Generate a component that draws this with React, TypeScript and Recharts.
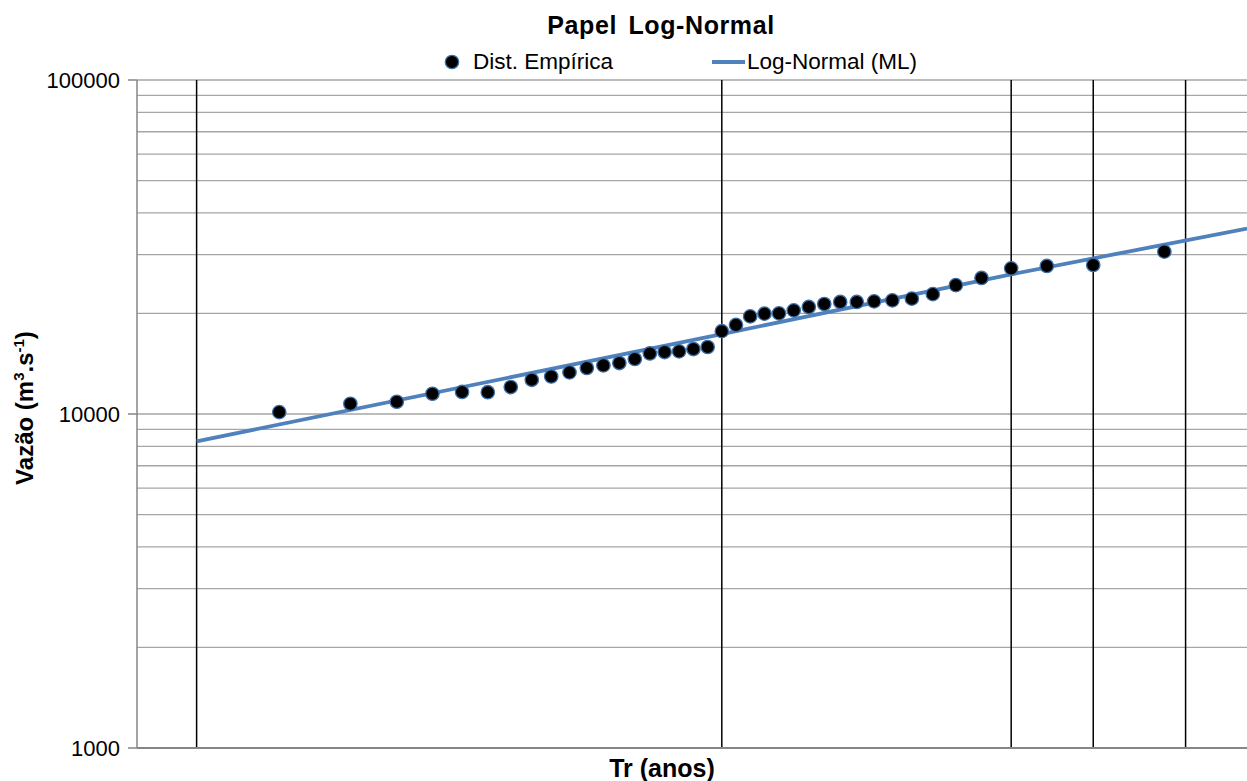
import React from 'react';
import { ScatterChart, Scatter, XAxis, YAxis, CartesianGrid, ReferenceLine } from 'recharts';

// Empirical distribution: normal reduced variate (Weibull plotting position) and discharge
const empiricalZ = [
  -1.96, -1.645, -1.4395, -1.2816, -1.1503, -1.0364, -0.9346, -0.8416, -0.7554, -0.6745,
  -0.5978, -0.5244, -0.4538, -0.3853, -0.3186, -0.2533, -0.1891, -0.1257, -0.0627, 0,
  0.0627, 0.1257, 0.1891, 0.2533, 0.3186, 0.3853, 0.4538, 0.5244, 0.5978, 0.6745,
  0.7554, 0.8416, 0.9346, 1.0364, 1.1503, 1.2816, 1.4395, 1.645, 1.96,
];
const empiricalQ = [
  10130, 10730, 10880, 11500, 11640, 11620, 12040, 12660, 12950, 13320,
  13730, 13980, 14210, 14610, 15180, 15330, 15400, 15650, 15870, 17700,
  18480, 19600, 19970, 20010, 20430, 20920, 21350, 21650, 21650, 21740,
  21890, 22150, 22850, 24310, 25550, 27290, 27750, 27940, 30630,
];

// Fitted Log-Normal (ML) line
const fitZ = [-2.326, 0, 1.2816, 2.326];
const fitQ = [8280, 17350, 26200, 35900];

// Return-period reference lines (Tr = 1.01, 2, 10, 20, 50 years) as reduced variates
const returnPeriodZ = [-2.326, 0, 1.2816, 1.645, 2.054];

const yTicks = [
  1000, 2000, 3000, 4000, 5000, 6000, 7000, 8000, 9000,
  10000, 20000, 30000, 40000, 50000, 60000, 70000, 80000, 90000, 100000,
];
const yMajorTicks = [1000, 10000, 100000];
const xDomain = [-2.59, 2.326];
const yDomain = [1000, 100000];

const empirical = empiricalZ.map((z, i) => ({ z, q: empiricalQ[i] }));
const fitted = fitZ.map((z, i) => ({ z, q: fitQ[i] }));

const FONT = '"Liberation Sans", Arial, sans-serif';
const LINE_COLOR = '#4F81BD';

const YTick = (props: any) => {
  const { x, y, payload } = props;
  if (!yMajorTicks.includes(payload.value)) return <g />;
  return (
    <g>
      <line x1={x + 8} x2={x + 17} y1={y} y2={y} stroke="#868686" strokeWidth={1.5} />
      <text x={x} y={y} dy={7.5} textAnchor="end" fontFamily={FONT} fontSize={22} fill="#000">
        {payload.value}
      </text>
    </g>
  );
};

const Dot = (p: any) => (
  <circle cx={p.cx} cy={p.cy} r={6.7} fill="#000" stroke="#3d6fa8" strokeWidth={1.3} />
);

export default function App() {
  return (
    <div style={{ position: 'absolute', left: 0, top: 0, width: 1247, height: 781, background: '#fff', overflow: 'hidden' }}>
      <ScatterChart width={1247} height={781} margin={{ top: 80, right: 0, bottom: 3, left: 0 }}>
        <CartesianGrid vertical={false} stroke="#a6a6a6" strokeWidth={1.3} />
        <XAxis
          type="number"
          dataKey="z"
          domain={xDomain}
          ticks={returnPeriodZ}
          allowDataOverflow
          tick={false}
          tickLine={false}
          axisLine={{ stroke: '#868686', strokeWidth: 2 }}
          height={30}
        />
        <YAxis
          type="number"
          dataKey="q"
          scale="log"
          domain={yDomain}
          ticks={yTicks}
          allowDataOverflow
          interval={0}
          width={137}
          tickSize={6}
          tickMargin={11}
          tickLine={false}
          tick={<YTick />}
          axisLine={{ stroke: '#868686', strokeWidth: 1.5 }}
        />
        {returnPeriodZ.map((z) => (
          <ReferenceLine key={z} x={z} stroke="#000" strokeWidth={1.5} />
        ))}
        <Scatter
          name="Log-Normal (ML)"
          data={fitted}
          line={{ stroke: LINE_COLOR, strokeWidth: 3.8 }}
          shape={() => <g />}
          isAnimationActive={false}
        />
        <Scatter name="Dist. Empírica" data={empirical} shape={Dot} isAnimationActive={false} />
      </ScatterChart>
      <svg
        width={1247}
        height={781}
        style={{ position: 'absolute', left: 0, top: 0, pointerEvents: 'none' }}
      >
        <text x={661} y={34} textAnchor="middle" fontFamily={FONT} fontWeight="bold" fontSize={25} letterSpacing={0.6} wordSpacing={4} fill="#000">
          Papel Log-Normal
        </text>
        <circle cx={452} cy={62} r={6.7} fill="#000" stroke="#3d6fa8" strokeWidth={1.3} />
        <text x={473} y={69} fontFamily={FONT} fontSize={22.5} fill="#000">Dist. Empírica</text>
        <line x1={712} x2={745} y1={62} y2={62} stroke={LINE_COLOR} strokeWidth={3.8} />
        <text x={747} y={69} fontFamily={FONT} fontSize={22.5} fill="#000">Log-Normal (ML)</text>
        <text
          transform="translate(33,408) rotate(-90)"
          textAnchor="middle"
          fontFamily={FONT}
          fontWeight="bold"
          fontSize={24}
          fill="#000"
        >
          Vazão (m<tspan dy={-9} fontSize={15}>3</tspan><tspan dy={9}>.s</tspan>
          <tspan dy={-9} fontSize={15}>-1</tspan><tspan dy={9}>)</tspan>
        </text>
        <text x={662} y={777} textAnchor="middle" fontFamily={FONT} fontWeight="bold" fontSize={25} fill="#000">
          Tr (anos)
        </text>
      </svg>
    </div>
  );
}
